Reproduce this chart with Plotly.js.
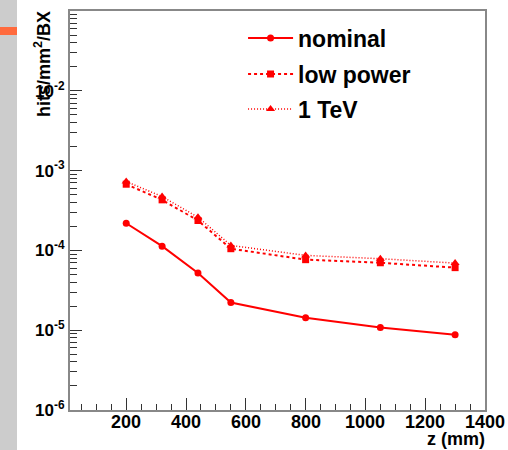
<!DOCTYPE html>
<html><head><meta charset="utf-8">
<script src="https://cdn.plot.ly/plotly-3.0.1.min.js"></script>
<style>html,body{margin:0;padding:0;background:#fff;}#chart{width:508px;height:450px;}</style>
</head><body><div id="chart"></div>
<script>
const zPositions = [200, 320, 440, 550, 800, 1050, 1300];
const nominal   = [2.19e-4, 1.13e-4, 5.2e-5, 2.22e-5, 1.43e-5, 1.08e-5, 8.8e-6];
const lowPower  = [6.75e-4, 4.3e-4, 2.37e-4, 1.05e-4, 7.65e-5, 7.0e-5, 6.08e-5];
const oneTeV    = [7.29e-4, 4.73e-4, 2.61e-4, 1.155e-4, 8.66e-5, 7.87e-5, 6.93e-5];
const seriesNames = ['nominal', 'low power', '1 TeV'];
const yTickVals = [1e-6, 1e-5, 1e-4, 1e-3, 1e-2];
const yTickText = ['10<sup>-6</sup>', '10<sup>-5</sup>', '10<sup>-4</sup>', '10<sup>-3</sup>', '10<sup>-2</sup>'];
const xTickVals = [200, 400, 600, 800, 1000, 1200, 1400];
const xTickText = ['200', '400', '600', '800', '1000', '1200', '1400'];

const FONT = 'Liberation Sans, Arial, sans-serif';
const RED = '#ff0000';

const traces = [
  {x: zPositions, y: nominal, name: seriesNames[0], mode: 'lines+markers', legend: 'legend',
   line: {color: RED, width: 2, dash: 'solid'}, marker: {symbol: 'circle', size: 7, color: RED}},
  {x: zPositions, y: lowPower, name: seriesNames[1], mode: 'lines+markers', legend: 'legend2',
   line: {color: RED, width: 2, dash: '3px,3px'}, marker: {symbol: 'square', size: 7, color: RED}},
  {x: zPositions, y: oneTeV, name: seriesNames[2], mode: 'lines+markers', legend: 'legend3',
   line: {color: RED, width: 1.5, dash: '1px,2px'}, marker: {symbol: 'triangle-up', size: 8, color: RED}}
];

const legendBase = {xref: 'paper', yref: 'paper', xanchor: 'left', yanchor: 'middle', bgcolor: 'rgba(0,0,0,0)',
  borderwidth: 0, itemwidth: 45, font: {family: FONT, size: 23, color: '#000', weight: 'bold'}};

const tickFont = {family: FONT, size: 18, color: '#000', weight: 'bold'};
const xLabelAnnotations = xTickVals.map((v, i) => ({
  text: xTickText[i], xref: 'x', yref: 'paper', x: v, y: 0, xanchor: 'center', yanchor: 'top',
  yshift: 0, showarrow: false, font: tickFont
}));

const layout = {
  width: 508, height: 450,
  margin: {l: 70, r: 23, t: 11, b: 40},
  paper_bgcolor: '#ffffff', plot_bgcolor: '#ffffff',
  font: {family: FONT, size: 16, color: '#000', weight: 'bold'},
  showlegend: true,
  legend:  Object.assign({}, legendBase, {x: 0.417, y: (410 - 38) / 399}),
  legend2: Object.assign({}, legendBase, {x: 0.417, y: (410 - 74) / 399}),
  legend3: Object.assign({}, legendBase, {x: 0.417, y: (410 - 109) / 399}),
  xaxis: {
    range: [12, 1400], showgrid: false, zeroline: false,
    showline: true, linecolor: '#888888', linewidth: 2, mirror: true,
    ticks: 'inside', ticklen: 12, tickcolor: '#333333', tickwidth: 1,
    tickvals: xTickVals, ticktext: xTickText, showticklabels: false,
    minor: {ticks: 'inside', ticklen: 6, dtick: 50, tick0: 0, tickcolor: '#333333', tickwidth: 1, showgrid: false}
  },
  yaxis: {
    type: 'log', range: [-6, -1], showgrid: false, zeroline: false,
    showline: true, linecolor: '#888888', linewidth: 2, mirror: true,
    ticks: 'inside', ticklen: 12, tickcolor: '#333333', tickwidth: 1,
    tickvals: yTickVals, ticktext: yTickText,
    tickfont: {family: FONT, size: 17, color: '#000', weight: 'bold'},
    minor: {ticks: 'inside', ticklen: 7, dtick: 'D1', tickcolor: '#333333', tickwidth: 1, showgrid: false}
  },
  shapes: [
    {type: 'rect', xref: 'paper', yref: 'paper', x0: -70/415, x1: -53/415, y0: -40/399, y1: 1 + 11/399,
     fillcolor: '#cccccc', line: {width: 0}, layer: 'below'},
    {type: 'rect', xref: 'paper', yref: 'paper', x0: -70/415, x1: -53/415, y0: (410 - 35)/399, y1: (410 - 27)/399,
     fillcolor: '#ff6a3d', line: {width: 0}, layer: 'below'}
  ],
  annotations: xLabelAnnotations.concat([
    {text: 'hits/mm<sup>2</sup>/BX', textangle: -90, xref: 'paper', yref: 'paper',
     x: (42 - 70)/415, y: 1, xanchor: 'center', yanchor: 'top', yshift: 2, showarrow: false,
     font: {family: FONT, size: 18, color: '#000', weight: 'bold'}},
    {text: 'z (mm)', xref: 'paper', yref: 'paper', x: 1, y: 0, xanchor: 'right', yanchor: 'middle',
     yshift: -29, xshift: 2, showarrow: false,
     font: {family: FONT, size: 18, color: '#000', weight: 'bold'}}
  ])
};

Plotly.newPlot('chart', traces, layout, {displayModeBar: false, staticPlot: true});
</script></body></html>
